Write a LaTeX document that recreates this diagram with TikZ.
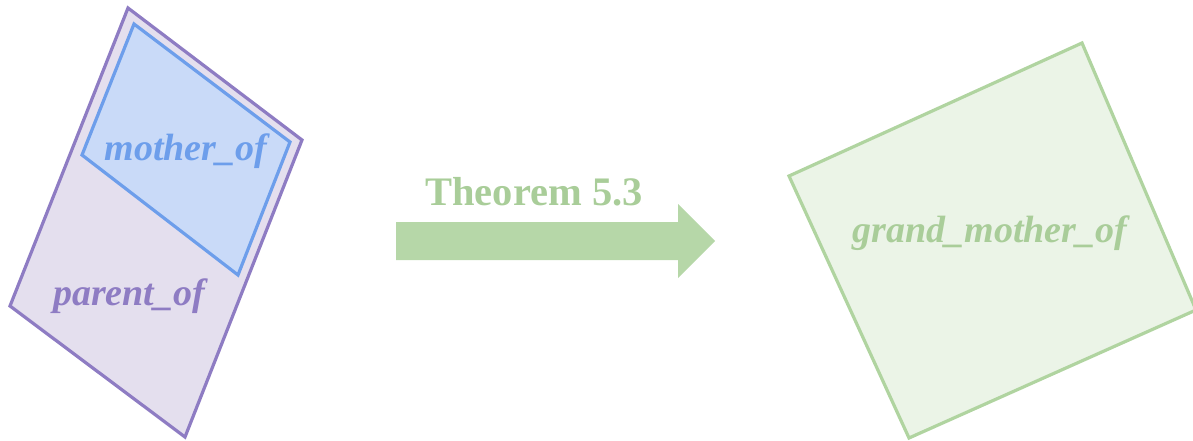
\documentclass[tikz,border=0pt]{standalone}
\usepackage{fontspec}
\setmainfont{Liberation Serif}
\usetikzlibrary{positioning}
\definecolor{purpleline}{HTML}{8E7CC3}
\definecolor{purplefill}{HTML}{E4DFEE}
\definecolor{blueline}{HTML}{6D9EEB}
\definecolor{bluefill}{HTML}{C9DAF8}
\definecolor{greenline}{HTML}{B0D4A0}
\definecolor{greenarrow}{HTML}{B6D7A8}
\definecolor{greenfill}{HTML}{EBF4E7}
\definecolor{greentext}{HTML}{A9CD99}
\tikzset{
  relbox/.style={line width=3.2pt, line join=miter},
  rellabel/.style={font=\fontsize{38}{44}\selectfont\bfseries\itshape, inner sep=0pt},
}
\begin{document}
\begin{tikzpicture}[x=1pt,y=-1pt]
				\useasboundingbox (0,0) rectangle (1193,441);
				%\draw[color=gray,step=10, help lines,opacity=0.3] (0,0) grid (1193,441); %help grids
				% parent_of
				\draw[relbox, draw=purpleline, fill=purplefill] (128,8)--(302,140)--(185,437)--(10,306)--cycle;
				% mother_of
				\draw[relbox, draw=blueline, fill=bluefill] (134,24)--(290,142)--(238,275)--(82,155)--cycle;
				\node[rellabel, text=blueline] (mother) at (186,151) {mother\_of};
				\node[rellabel, text=purpleline] (parent) at (129,296) {parent\_of};
				% theorem arrow
				\fill[greenarrow] (396,222)--(678,222)--(678,204)--(715,241)--(678,278)--(678,260)--(396,260)--cycle;
				\node[font=\fontsize{40.5}{46}\selectfont\bfseries, text=greentext, inner sep=0pt] (thm) at (534,192) {Theorem 5.3};
				% grand_mother_of
				\draw[relbox, draw=greenline, fill=greenfill] (1082,43)--(1196,310)--(909,438)--(789,176)--cycle;
				\node[rellabel, text=greentext] (grand) at (990,233) {grand\_mother\_of};
\end{tikzpicture}
\end{document}
